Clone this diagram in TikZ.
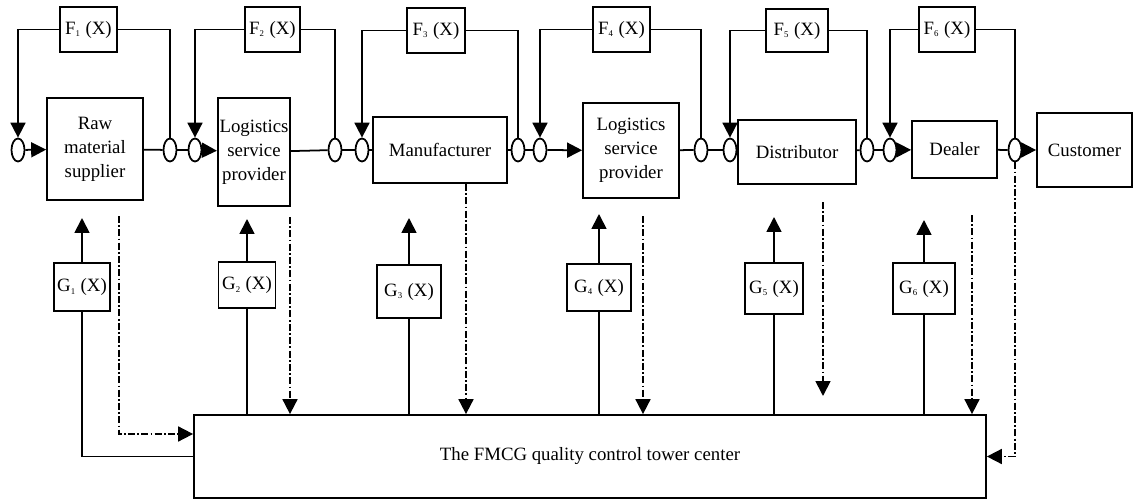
\documentclass[tikz,border=0pt]{standalone}
\usepackage{fontspec}
\setmainfont{Liberation Serif}
\usetikzlibrary{arrows.meta,shapes.geometric,calc}
\newcommand\myfs{\fontsize{10.7}{13.6}\selectfont}
\newcommand\sbs[1]{\textsubscript{\fontsize{5}{5}\selectfont #1}}
\begin{document}
\begin{tikzpicture}[x=0.02cm,y=-0.02cm,
  box/.style 2 args={draw, line width=1pt, inner sep=1pt, align=center, fill=white,
    minimum width=#1*0.02cm, minimum height=#2*0.02cm, font=\myfs},
  circ/.style={draw, ellipse, line width=1pt, fill=white, inner sep=0pt,
    minimum width=0.26cm, minimum height=0.46cm},
  arr/.style={-{Triangle[width=8.5pt,length=8.5pt]}, line width=1pt},
  ln/.style={line width=1pt},
  dd/.style={line width=1pt, dash pattern=on 4pt off 1.3pt on 1pt off 1.3pt}]
\useasboundingbox (0,0) rectangle (1133,500);

% main row
\node[box={96}{102}] (raw) at (95,149) {Raw\\material\\supplier};
\node[box={72}{108}] (lsp1) at (254,152) {Logistics\\service\\provider};
\node[box={134}{66}] (man) at (440,150) {Manufacturer};
\node[box={96}{95}] (lsp2) at (631,150.5) {Logistics\\service\\provider};
\node[box={118}{64}] (dis) at (797,152) {Distributor};
\node[box={85}{57}] (dea) at (954.5,149.5) {Dealer};
\node[box={95}{74}] (cus) at (1084.5,150) {Customer};

% F boxes
\node[box={57}{45}] (f1) at (88.5,29.5) {F\sbs{1} (X)};
\node[box={55}{45}] (f2) at (272.5,29.5) {F\sbs{2} (X)};
\node[box={58}{45}] (f3) at (436,30.5) {F\sbs{3} (X)};
\node[box={57}{45}] (f4) at (621.5,29.5) {F\sbs{4} (X)};
\node[box={62}{43}] (f5) at (797,30.5) {F\sbs{5} (X)};
\node[box={56}{45}] (f6) at (947,29.5) {F\sbs{6} (X)};

% G boxes
\node[box={56}{48}] (g1) at (82,287) {G\sbs{1} (X)};
\node[box={57}{46}] (g2) at (247,285) {G\sbs{2} (X)};
\node[box={64}{53}] (g3) at (409,291.5) {G\sbs{3} (X)};
\node[box={64}{47}] (g4) at (599,287.5) {G\sbs{4} (X)};
\node[box={58}{51}] (g5) at (774,288.5) {G\sbs{5} (X)};
\node[box={62}{51}] (g6) at (924,288.5) {G\sbs{6} (X)};

% tower
\node[box={792}{83}] (tow) at (590,456.5) {The FMCG quality control tower center};

% small circles
\foreach \n/\x in {1/18,2/170,3/195,4/335,5/362,6/518,7/540,8/701,9/730,10/867,11/890,12/1015}
  \node[circ] (c\n) at (\x,150) {};

% main flow
\draw[arr] (c1) -- (raw);
\draw[ln] (raw) -- (c2);
\draw[ln] (c2) -- (c3);
\draw[arr] (c3) -- (lsp1);
\draw[ln] (lsp1) -- (c4);
\draw[ln] (c4) -- (c5);
\draw[ln] (c5) -- (man);
\draw[ln] (man) -- (c6);
\draw[ln] (c6) -- (c7);
\draw[arr] (c7) -- (lsp2);
\draw[ln] (lsp2) -- (c8);
\draw[ln] (c8) -- (c9);
\draw[ln] (c9) -- (dis);
\draw[ln] (dis) -- (c10);
\draw[ln] (c10) -- (c11);
\draw[arr] (c11) -- (dea);
\draw[ln] (dea) -- (c12);
\draw[arr] (c12) -- (cus);

% feedback loops
\draw[arr] (f1.west) -| (c1.north);
\draw[ln] (f1.east) -| (c2.north);
\draw[arr] (f2.west) -| (c3.north);
\draw[ln] (f2.east) -| (c4.north);
\draw[arr] (f3.west) -| (c5.north);
\draw[ln] (f3.east) -| (c6.north);
\draw[arr] (f4.west) -| (c7.north);
\draw[ln] (f4.east) -| (c8.north);
\draw[arr] (f5.west) -| (c9.north);
\draw[ln] (f5.east) -| (c10.north);
\draw[arr] (f6.west) -| (c11.north);
\draw[ln] (f6.east) -| (c12.north);

% G arrows and lines
\coordinate (t1) at (82,218);
\coordinate (t2) at (247,219);
\coordinate (t3) at (409,218);
\coordinate (t4) at (599,214);
\coordinate (t5) at (774,217);
\coordinate (t6) at (924,220);
\foreach \k in {1,...,6} \draw[arr] (g\k.north) -- (t\k);
\draw[ln] (g1.south) |- (tow.west);
\foreach \k in {2,...,6} \draw[ln] (g\k.south) -- (g\k.south |- tow.north);

% dash-dot reporting lines
\coordinate (d1) at (119,216);
\coordinate (d2) at (290,217);
\coordinate (d3) at ($(man.south)+(26,0)$);
\coordinate (d4) at (643,216);
\coordinate (d5) at (823,202);
\coordinate (e5) at (823,396);
\coordinate (d6) at (972,215);
\draw[dd,arr] (d1) |- (tow.west |- 0,434);
\draw[dd,arr] (d2) -- (d2 |- tow.north);
\draw[dd,arr] (d3) -- (d3 |- tow.north);
\draw[dd,arr] (d4) -- (d4 |- tow.north);
\draw[dd,arr] (d5) -- (e5);
\draw[dd,arr] (d6) -- (d6 |- tow.north);
\draw[dd,arr] (c12.south) |- (tow.east);
\end{tikzpicture}
\end{document}
